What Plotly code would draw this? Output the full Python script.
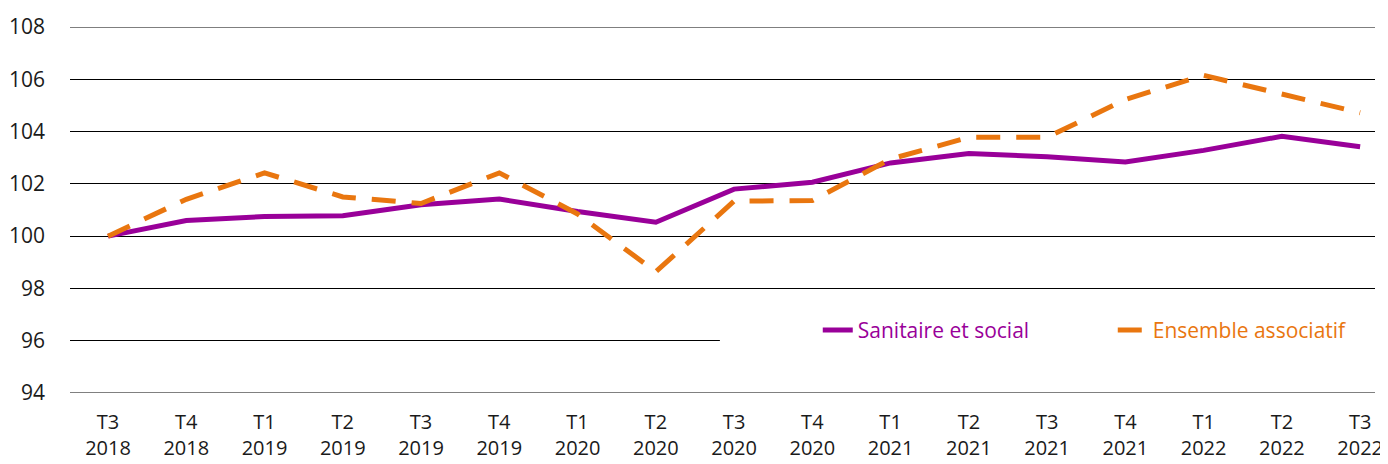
import plotly.graph_objects as go

quarters = ["T3", "T4", "T1", "T2", "T3", "T4", "T1", "T2", "T3", "T4",
            "T1", "T2", "T3", "T4", "T1", "T2", "T3"]
years = ["2018", "2018", "2019", "2019", "2019", "2019", "2020", "2020", "2020", "2020",
         "2021", "2021", "2021", "2021", "2022", "2022", "2022"]
sanitaire = [100.0, 100.6, 100.75, 100.78, 101.2, 101.42, 100.94, 100.53, 101.8, 102.06,
             102.8, 103.16, 103.04, 102.84, 103.28, 103.82, 103.42]
ensemble = [100.0, 101.41, 102.42, 101.5, 101.25, 102.42, 100.85, 98.64, 101.34, 101.36,
            102.95, 103.78, 103.78, 105.23, 106.15, 105.42, 104.72]
y_ticks = [94, 96, 98, 100, 102, 104, 106, 108]

PURPLE = "#990099"
ORANGE = "#E9760F"
FONT = "Open Sans"
TXT = "#1a1a1a"

x = list(range(len(quarters)))
ticktext = [f"{q}<br>{y}" for q, y in zip(quarters, years)]
XR = [-0.486, 16.19]

fig = go.Figure()
fig.add_trace(go.Scatter(
    x=x, y=sanitaire, mode="lines",
    name=f'<span style="color:{PURPLE}">Sanitaire et social</span>',
    line=dict(color=PURPLE, width=5),
))
fig.add_trace(go.Scatter(
    x=x, y=ensemble, mode="lines",
    name=f'<span style="color:{ORANGE}">Ensemble associatif</span>',
    line=dict(color=ORANGE, width=5, dash="24px,16px"),
))

# white band hiding the 96 gridline behind the legend
fig.add_shape(type="rect", xref="paper", yref="y", x0=0.498, x1=1.0, y0=95.4, y1=96.6,
              fillcolor="white", line=dict(width=0), layer="above")
fig.add_shape(type="line", xref="paper", yref="y", x0=0, x1=1, y0=108, y1=108,
              line=dict(color="#000000", width=1), layer="below")
fig.add_shape(type="line", xref="paper", yref="y", x0=0, x1=1, y0=94, y1=94,
              line=dict(color="#808080", width=2), layer="below")

fig.update_layout(
    width=1380, height=456,
    margin=dict(l=62, r=13, t=19, b=71, autoexpand=False),
    paper_bgcolor="white", plot_bgcolor="white",
    font=dict(family=FONT, size=21, color=TXT),
    showlegend=True,
    legend=dict(
        orientation="h", x=0.573, xanchor="left", y=0.171, yanchor="middle",
        bgcolor="rgba(0,0,0,0)", font=dict(family=FONT, size=21),
        entrywidth=250, entrywidthmode="pixels",
    ),
    xaxis=dict(
        range=XR, tickvals=x, ticktext=ticktext,
        showgrid=False, zeroline=False, showline=False, automargin=False,
        ticks="", ticklabelstandoff=15,
        tickfont=dict(family=FONT, size=20, color=TXT),
    ),
    yaxis=dict(
        range=[94, 108], tickvals=y_ticks, showgrid=True, gridcolor="#000000", gridwidth=1,
        zeroline=False, showline=False, ticks="", ticklabelstandoff=24, automargin=False,
        tickfont=dict(family=FONT, size=21, color=TXT),
    ),
)

fig.write_html("out.html")
